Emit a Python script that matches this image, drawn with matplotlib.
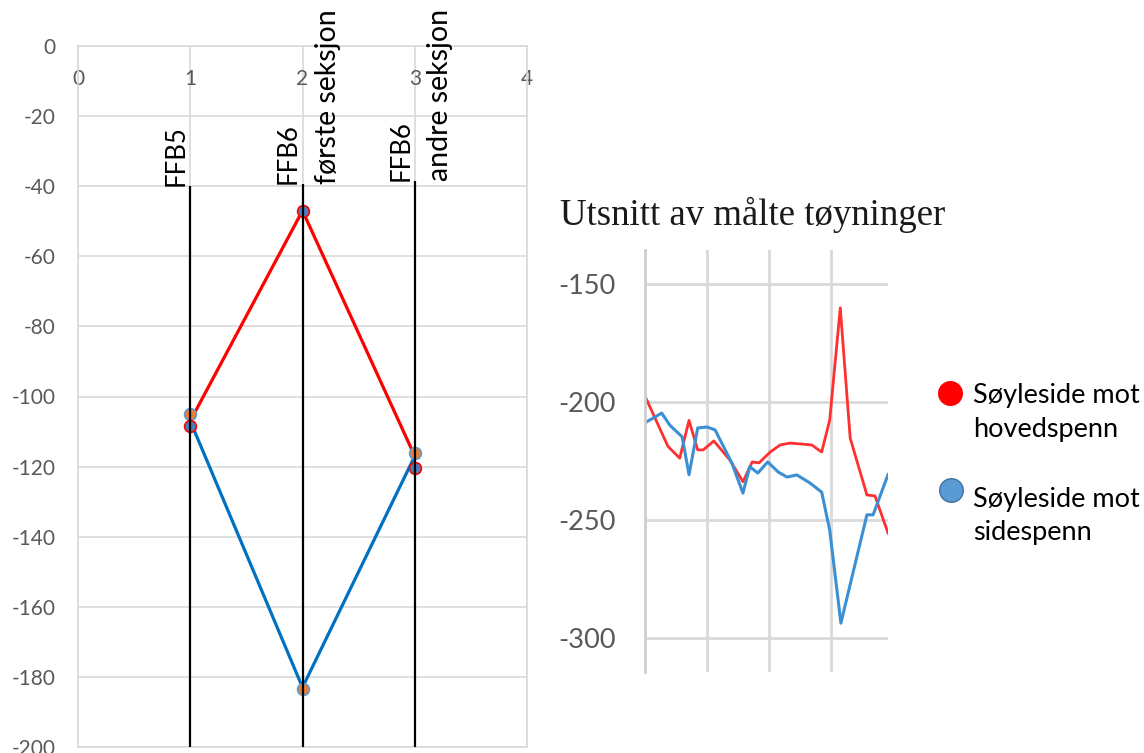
"""Strain along column sides (left) with an excerpt of measured strains (right)."""

import matplotlib

matplotlib.use("Agg")

import matplotlib.pyplot as plt
from matplotlib.lines import Line2D

plt.rcParams["font.family"] = ["Lato", "DejaVu Sans"]
plt.rcParams["axes.unicode_minus"] = False

# Left chart: sections and values
section_x = [1, 2, 3]
section_names = [("FFB5", ""), ("FFB6", "første seksjon"), ("FFB6", "andre seksjon")]
section_line_top = [-40, -39.5, -38.6]
hoved_line = [-107, -47, -117]
side_line = [-107, -183, -117]
hoved_points = [-108.5, -47, -120.5]
side_points = [-105, -183.5, -116]

# Right chart: excerpt of measured strains
hoved_x = [0.0, 0.37, 0.56, 0.71, 0.85, 0.94, 1.11, 1.37, 1.58, 1.73, 1.84,
           2.02, 2.18, 2.34, 2.69, 2.85, 2.98, 3.15, 3.31, 3.58, 3.71, 3.92]
hoved_y = [-197.7, -219, -224, -208, -220.5, -220.5, -216.7, -224.8, -234, -225.6, -226,
           -221.4, -218.4, -217.6, -218.4, -221.4, -207.8, -160.3, -215.5, -239.6, -240, -255.7]
side_x = [0.0, 0.27, 0.40, 0.60, 0.71, 0.85, 1.0, 1.13, 1.40, 1.58, 1.69, 1.82,
          1.98, 2.15, 2.29, 2.45, 2.66, 2.85, 2.98, 3.16, 3.58, 3.68, 3.92]
side_y = [-209, -204.9, -210, -215, -231, -211.2, -210.8, -212, -226, -238.8, -227.6, -230.3,
          -225.6, -229.9, -232, -231.1, -234.5, -238.4, -254.5, -293.9, -248, -248, -231]

legend_labels = [("Søyleside mot", "hovedspenn"), ("Søyleside mot", "sidespenn")]

W, H = 1144, 753
GRID = "#d9d9d9"
TICK = "#595959"


def fx(px):
    return px / W


def fy(py):
    return 1 - py / H


fig = plt.figure(figsize=(W / 100, H / 100), dpi=100)

# ---- left chart
ax = fig.add_axes([fx(78), fy(747), fx(527) - fx(78), fy(46) - fy(747)])
ax.set_xlim(0, 4)
ax.set_ylim(-200, 0)
ax.set_xticks(range(0, 5))
ax.set_yticks(range(0, -201, -20))
ax.grid(color=GRID, linewidth=1.2)
ax.set_axisbelow(True)
for spine in ax.spines.values():
    spine.set_color(GRID)
    spine.set_linewidth(1.2)
ax.tick_params(axis="y", length=0, pad=16, labelsize=15, labelcolor=TICK)
ax.tick_params(axis="x", length=0, top=True, labeltop=True, bottom=False,
               labelbottom=False, pad=-31, labelsize=15, labelcolor=TICK)

ax.plot(section_x, hoved_line, color="#ff0000", linewidth=2.3, zorder=3)
ax.plot(section_x, side_line, color="#0070c0", linewidth=2.3, zorder=3)
ax.plot(section_x, side_points, linestyle="none", marker="o", markersize=8.5,
        markerfacecolor="#ed7d31", markeredgecolor="#5b9bd5", markeredgewidth=1.2, zorder=4)
ax.plot(section_x, hoved_points, linestyle="none", marker="o", markersize=8.5,
        markerfacecolor="#4a7ebb", markeredgecolor="#ff0000", markeredgewidth=1.2, zorder=4)
ax.vlines(section_x, -200, section_line_top, color="black", linewidth=1.6, zorder=5)

for x, top, (name, sub) in zip(section_x, section_line_top, section_names):
    ax.annotate(name, (x, top), xytext=(-1, 0), textcoords="offset points",
                rotation=90, ha="right", va="bottom", fontsize=18.5, color="black",
                annotation_clip=False)
    if sub:
        ax.annotate(sub, (x, top), xytext=(9, 0), textcoords="offset points",
                    rotation=90, ha="left", va="bottom", fontsize=20.5, color="black",
                    annotation_clip=False)

# ---- right chart
ax2 = fig.add_axes([fx(645), fy(672), fx(888) - fx(645), fy(250) - fy(672)])
ax2.set_xlim(0, 3.92)
ax2.set_ylim(-314.6, -135.8)
ax2.set_xticks([0, 1, 2, 3])
ax2.set_yticks([-150, -200, -250, -300])
ax2.grid(color=GRID, linewidth=2)
ax2.set_axisbelow(True)
for side in ["top", "right", "bottom"]:
    ax2.spines[side].set_visible(False)
ax2.spines["left"].set_color("#cfcfcf")
ax2.spines["left"].set_linewidth(2)
ax2.tick_params(axis="x", length=0, labelbottom=False)
ax2.tick_params(axis="y", length=0, pad=21, labelsize=19.5, labelcolor=TICK)

ax2.plot(hoved_x, hoved_y, color="#ff3030", linewidth=2.0)
ax2.plot(side_x, side_y, color="#3a8fd5", linewidth=2.2)

fig.text(fx(560), fy(225), "Utsnitt av målte tøyninger", family="Liberation Serif",
         fontsize=26.5, color="#1a1a1a", va="baseline")

# legend
legend_dots = [(fx(950), fy(393), "#ff0000", "#ff0000"),
               (fx(951), fy(490), "#5b9bd5", "#41719c")]
legend_baselines = [(403, 437), (507, 540)]
for (dx, dy, face, edge), rows, lines in zip(legend_dots, legend_baselines, legend_labels):
    fig.add_artist(Line2D([dx], [dy], transform=fig.transFigure, marker="o",
                          markersize=17, markerfacecolor=face, markeredgecolor=edge,
                          markeredgewidth=1, linestyle="none"))
    for row, text in zip(rows, lines):
        fig.text(fx(973), fy(row), text, fontsize=19.5, color="black", va="baseline")

fig.savefig("out.png", dpi=100)
